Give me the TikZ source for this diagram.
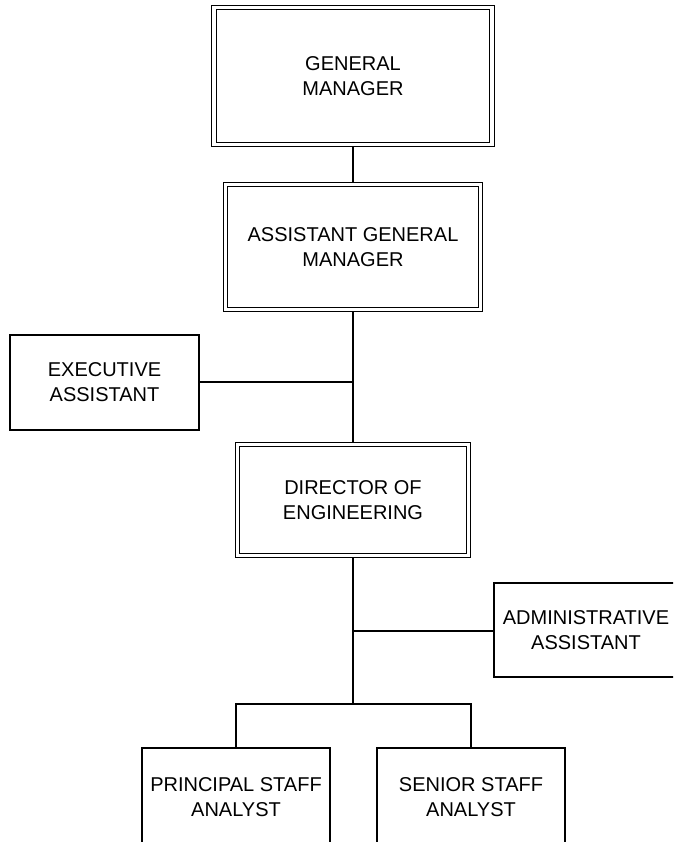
\documentclass[tikz,border=0pt]{standalone}
\usepackage{fontspec}
\setmainfont{Liberation Sans}
\begin{document}
\begin{tikzpicture}[x=1pt,y=-1pt,
  every node/.style={font=\fontsize{20}{25}\selectfont, align=center, inner sep=0pt},
  dbox/.style={draw, line width=1.3pt, double, double distance=3.2pt, outer sep=2.9pt, rectangle},
  sbox/.style={draw, line width=1.3pt, rectangle},
  conn/.style={line width=1.3pt}]
\useasboundingbox (0,0) rectangle (673,842);
\clip (0,0) rectangle (673,842);
\node[dbox, minimum width=278pt, minimum height=137pt] (gm) at (353,76) {GENERAL\\MANAGER};
\node[dbox, minimum width=255pt, minimum height=125pt] (agm) at (353,247) {ASSISTANT GENERAL\\MANAGER};
\node[dbox, minimum width=231pt, minimum height=111pt] (dir) at (353,500) {DIRECTOR OF\\ENGINEERING};
\node[sbox, minimum width=189pt, minimum height=95pt] (exec) at (104.5,382.5) {EXECUTIVE\\ASSISTANT};
\node[sbox, minimum width=184pt, minimum height=94pt] (admin) at (586,630) {ADMINISTRATIVE\\ASSISTANT};
\node[sbox, minimum width=188pt, minimum height=98pt] (prin) at (236,797) {PRINCIPAL STAFF\\ANALYST};
\node[sbox, minimum width=188pt, minimum height=98pt] (sen) at (471,797) {SENIOR STAFF\\ANALYST};
\coordinate (j1) at (353,382);
\coordinate (j2) at (353,631);
\coordinate (bus) at (353,704);
\draw[conn] (gm.south) -- (agm.north);
\draw[conn] (agm.south) -- (dir.north);
\draw[conn] (dir.south) -- (bus);
\draw[conn] (j1) -- (j1 -| exec.east);
\draw[conn] (j2) -- (j2 -| admin.west);
\draw[conn] (prin.north) |- (bus) -| (sen.north);
\end{tikzpicture}
\end{document}
